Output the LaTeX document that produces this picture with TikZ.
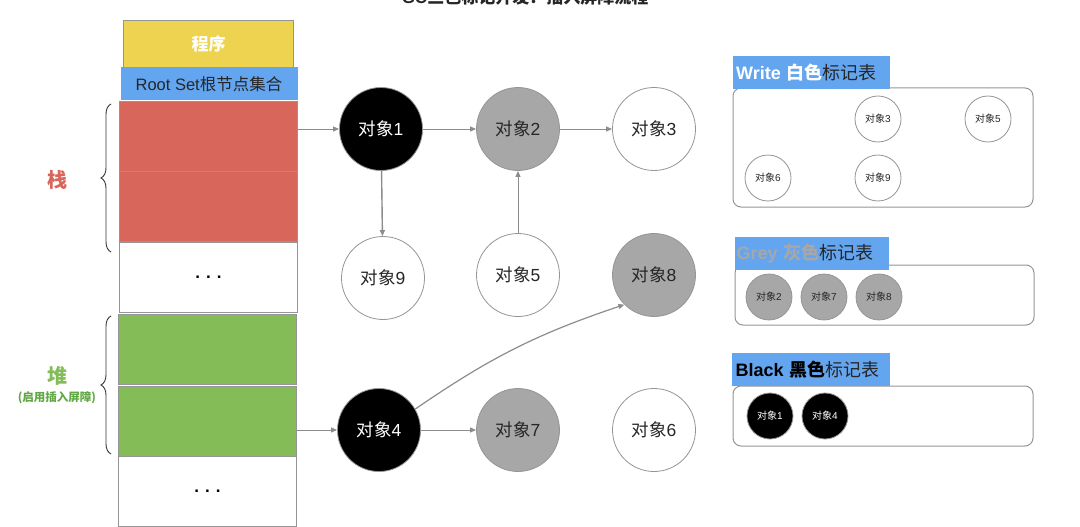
\documentclass[tikz,border=0pt]{standalone}
\usepackage{fontspec}
\setmainfont{Liberation Sans}
\newfontfamily\cjk{Noto Sans CJK SC}
\usetikzlibrary{decorations.pathreplacing,arrows.meta}
\definecolor{cyel}{HTML}{EED350}
\definecolor{cblue}{HTML}{64A5F0}
\definecolor{cred}{HTML}{D9665B}
\definecolor{cgreen}{HTML}{84BC57}
\definecolor{cgray}{HTML}{A6A7A6}
\definecolor{cline}{HTML}{8C8C8C}
\definecolor{cbord}{HTML}{959595}
\definecolor{cgtext}{HTML}{5FA843}
\newcommand{\obtxt}[1]{{\cjk 对象}#1}
\newcommand{\threedots}{.\hspace{6pt}.\hspace{6pt}.}
\tikzset{
  cell/.style={draw=cbord, line width=1pt, inner sep=0pt, anchor=north west, minimum width=178pt, minimum height=70pt},
  obj/.style={circle, draw=cbord, line width=0.8pt, inner sep=0pt, minimum size=83pt, font=\fontsize{17.5}{20}\selectfont},
  sobj/.style={circle, draw=cbord, line width=0.8pt, inner sep=0pt, minimum size=46pt, font=\fontsize{10}{12}\selectfont},
  wobj/.style={fill=white, text=black!85},
  gobj/.style={fill=cgray, text=black!85},
  bobj/.style={fill=black, text=white},
  arr/.style={draw=cline, line width=1pt, -{Triangle[length=6pt,width=5pt]}},
  panel/.style={draw=cbord, line width=1pt, rounded corners=8pt},
  tag/.style={fill=cblue, inner sep=0pt, anchor=north west, minimum height=33pt, minimum width=157pt, text width=151pt, align=left, font=\fontsize{18}{20}\selectfont},
  brc/.style={draw=black!80, line width=0.9pt, decorate, decoration={brace, amplitude=10pt}},
  dots/.style={font=\bfseries\fontsize{17}{18}\selectfont}
}
\begin{document}
\begin{tikzpicture}[x=1pt,y=-1pt]
\useasboundingbox (0,0) rectangle (1080,527);
% title (cut off at the top, as in the reference)
\node[font=\bfseries\fontsize{17}{20}\selectfont, text=black!85] (title) at (525,-3) {GC{\cjk\bfseries 三色标记开发：插入屏障流程}};
% left column
\node[cell, fill=cyel, minimum width=170pt, minimum height=47pt, text=white, font=\cjk\bfseries\fontsize{17}{20}\selectfont] (prog) at (123,20) {程序};
\node[cell, draw=none, fill=cblue, minimum width=177pt, minimum height=33pt, text=black!85, font=\fontsize{16.5}{18}\selectfont] (root) at (120,67) {Root Set{\cjk 根节点集合}};
\node[cell, fill=cred] (s1) at (119,101) {};
\node[cell, fill=cred] (s2) at (119,171) {};
\node[cell, fill=white, dots] (s3) at (119,242) {\threedots};
\node[cell, fill=cgreen] (h1) at (118,314) {};
\node[cell, fill=cgreen] (h2) at (118,386) {};
\node[cell, fill=white, dots] (h3) at (118,456) {\threedots};
% braces
\coordinate (b1s) at (111,252);
\coordinate (b1e) at (111,104);
\coordinate (b2s) at (111,454);
\coordinate (b2e) at (111,316);
\draw[brc] (b1s) -- (b1e);
\draw[brc] (b2s) -- (b2e);
\node[text=cred, font=\cjk\bfseries\fontsize{20}{22}\selectfont] (stk) at (57,180) {栈};
\node[text=cgreen, font=\cjk\bfseries\fontsize{20}{22}\selectfont] (heap) at (57,376) {堆};
\node[text=cgtext, font=\cjk\bfseries\fontsize{11.5}{13}\selectfont] (heapnote) at (57,398) {(启用插入屏障)};
% objects
\node[obj, bobj] (o1) at (381,129) {\obtxt{1}};
\node[obj, gobj] (o2) at (518,129) {\obtxt{2}};
\node[obj, wobj] (o3) at (654,129) {\obtxt{3}};
\node[obj, wobj] (o9) at (383,278) {\obtxt{9}};
\node[obj, wobj] (o5) at (518,275) {\obtxt{5}};
\node[obj, gobj] (o8) at (654,275) {\obtxt{8}};
\node[obj, bobj] (o4) at (379,430) {\obtxt{4}};
\node[obj, gobj] (o7) at (518,430) {\obtxt{7}};
\node[obj, wobj] (o6) at (654,430) {\obtxt{6}};
% connectors
\draw[arr] (s1.east |- o1) -- (o1);
\draw[arr] (o1) -- (o2);
\draw[arr] (o2) -- (o3);
\draw[arr, line width=1.4pt] (o1) -- (o9);
\draw[arr] (o5) -- (o2);
\draw[arr] (h2.east |- o4) -- (o4);
\draw[arr] (o4) -- (o7);
\draw[arr, line width=1.2pt] (o4.30) to[bend left=8] (o8.225);
% white table
\draw[panel] (733,88) rectangle (1033,207);
\node[tag] (wt) at (733,56) {\textbf{\textcolor{white}{Write {\cjk\bfseries 白色}}}\textcolor{black!85}{\cjk 标记表}};
\node[sobj, wobj] (w3) at (878,119) {\obtxt{3}};
\node[sobj, wobj] (w5) at (988,119) {\obtxt{5}};
\node[sobj, wobj] (w6) at (768,178) {\obtxt{6}};
\node[sobj, wobj] (w9) at (878,178) {\obtxt{9}};
% grey table
\draw[panel] (735,265) rectangle (1034,325);
\node[tag, minimum width=154pt] (gt) at (735,237) {\textbf{\textcolor{cgray}{Grey {\cjk\bfseries 灰色}}}\textcolor{black!85}{\cjk 标记表}};
\node[sobj, gobj] (g2) at (769,297) {\obtxt{2}};
\node[sobj, gobj] (g7) at (824,297) {\obtxt{7}};
\node[sobj, gobj] (g8) at (879,297) {\obtxt{8}};
% black table
\draw[panel] (733,386) rectangle (1033,446);
\node[tag, minimum width=158pt] (bt) at (732,353) {\textbf{\textcolor{black}{Black {\cjk\bfseries 黑色}}}\textcolor{black!85}{\cjk 标记表}};
\node[sobj, bobj] (k1) at (770,416) {\obtxt{1}};
\node[sobj, bobj] (k4) at (825,416) {\obtxt{4}};
\end{tikzpicture}
\end{document}
